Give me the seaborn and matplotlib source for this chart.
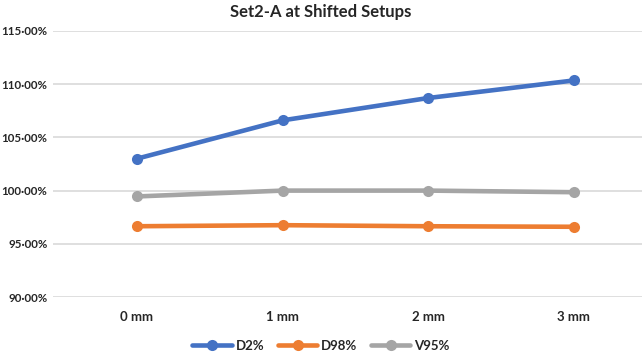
import matplotlib
matplotlib.use("Agg")
import matplotlib.pyplot as plt
import seaborn as sns
import pandas as pd
from matplotlib.ticker import FuncFormatter

categories = ["0 mm", "1 mm", "2 mm", "3 mm"]
d2 = [103.0, 106.6, 108.7, 110.35]
d98 = [96.65, 96.75, 96.65, 96.6]
v95 = [99.45, 100.0, 100.0, 99.85]
series_names = ["D2%", "D98%", "V95%"]
colors = ["#4472C4", "#ED7D31", "#A5A5A5"]

rows = []
for name, vals in zip(series_names, [d2, d98, v95]):
    for c, v in zip(categories, vals):
        rows.append({"Shift": c, "Value": v, "Series": name})
df = pd.DataFrame(rows)

sns.set_style("white")
plt.rcParams['font.family'] = ['Lato', 'DejaVu Sans']

fig = plt.figure(figsize=(6.42, 3.61), dpi=100)
ax = fig.add_axes([53/642, 1-297/361, (642-53)/642, (297-31)/361])

sns.lineplot(data=df, x="Shift", y="Value", hue="Series", hue_order=series_names,
             palette=colors, marker="o", markersize=8, markeredgewidth=0,
             linewidth=3.3, ax=ax, sort=False)

ax.set_ylim(90, 115)
ax.set_yticks([90, 95, 100, 105, 110, 115])
ax.yaxis.set_major_formatter(FuncFormatter(lambda v, p: f"{v:.2f}%".replace(".", "·")))
ax.set_xlim(-0.577, 3.47)
ax.grid(axis="y", color="#D9D9D9", linewidth=1.2)
ax.set_axisbelow(True)
for s in ax.spines.values():
    s.set_visible(False)
ax.tick_params(axis="x", length=0, labelsize=9.5, pad=10)
ax.tick_params(axis="y", length=0, labelsize=8.3, pad=4)
for lbl in ax.get_xticklabels() + ax.get_yticklabels():
    lbl.set_fontweight("bold")
ax.set_xlabel("")
ax.set_ylabel("")

handles, labels = ax.get_legend_handles_labels()
ax.get_legend().remove()
fig.legend(handles, labels, loc="center", bbox_to_anchor=(0.5, 1-346/361), ncol=3,
           frameon=False, prop={"weight": "bold", "size": 9.5}, handlelength=3,
           columnspacing=1.0, handletextpad=0.3)

fig.text(0.5, 1-12/361, "Set2-A at Shifted Setups", ha="center", va="center",
         fontsize=12, fontweight="bold")

fig.savefig("out.png", dpi=100)
